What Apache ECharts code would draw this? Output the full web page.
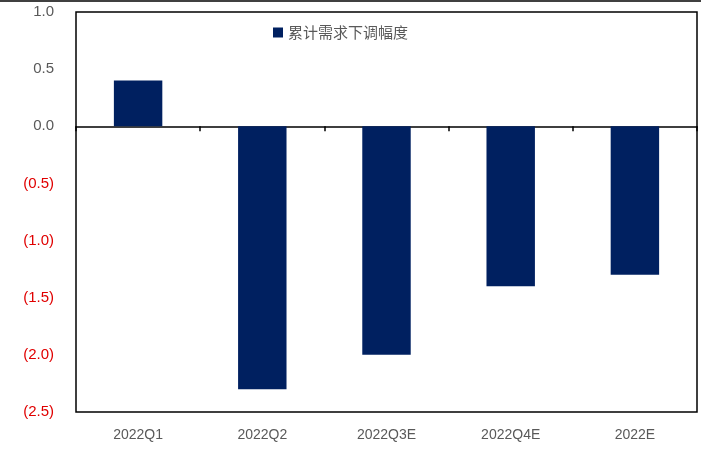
<!DOCTYPE html>
<html>
<head>
<meta charset="UTF-8" />
<script src="https://cdn.jsdelivr.net/npm/echarts@6/dist/echarts.min.js"></script>
<style>* { margin: 0; padding: 0; } #main { width: 701px; height: 455px; background: #fff; }</style>
</head>
<body>
<div id="main"></div>
<script>
    const categories = ["2022Q1", "2022Q2", "2022Q3E", "2022Q4E", "2022E"];
    const values = [0.4, -2.3, -2.0, -1.4, -1.3];
    const seriesName = "累计需求下调幅度";

    var myChart = echarts.init(document.getElementById("main"));
    var font = "'Noto Sans CJK SC', 'Liberation Sans', sans-serif";
    var option = {
        animation: false,
        textStyle: { fontFamily: font },
        grid: { left: 76, right: 4, top: 12, bottom: 43, show: true, borderColor: "#000", borderWidth: 1.5 },
        graphic: [{ type: "line", shape: { x1: 0, y1: 1, x2: 701, y2: 1 }, style: { stroke: "#000", lineWidth: 1.5 } }],
        legend: {
            data: [seriesName], left: 268, top: 20, icon: "rect", itemWidth: 10, itemHeight: 10, itemGap: 4,
            textStyle: { color: "#595959", fontSize: 15, fontFamily: font }
        },
        xAxis: [
            {
                type: "category", data: categories, position: "bottom",
                axisLine: { onZero: true, lineStyle: { color: "#000", width: 1.5 } },
                axisTick: { show: true, length: 5, lineStyle: { color: "#000", width: 1.5 } },
                axisLabel: { show: false }
            },
            {
                type: "category", data: categories, position: "bottom", offset: 0,
                axisLine: { show: false, onZero: false }, axisTick: { show: false },
                axisLabel: { color: "#595959", fontSize: 14, margin: 16, fontFamily: "'Liberation Sans', sans-serif" }
            }
        ],
        yAxis: {
            type: "value", min: -2.5, max: 1.0, interval: 0.5,
            axisLine: { show: false }, axisTick: { show: false }, splitLine: { show: false },
            axisLabel: {
                fontSize: 15, margin: 22, fontFamily: "'Liberation Sans', sans-serif",
                formatter: function (v) {
                    return v < 0 ? "{n|(" + Math.abs(v).toFixed(1) + ")}" : "{p|" + v.toFixed(1) + "}";
                },
                rich: { n: { color: "#e00000", fontSize: 15 }, p: { color: "#595959", fontSize: 15 } }
            }
        },
        series: [{ name: seriesName, type: "bar", data: values, barWidth: "39%", itemStyle: { color: "#002060" } }]
    };
    myChart.setOption(option);
</script>
</body>
</html>
